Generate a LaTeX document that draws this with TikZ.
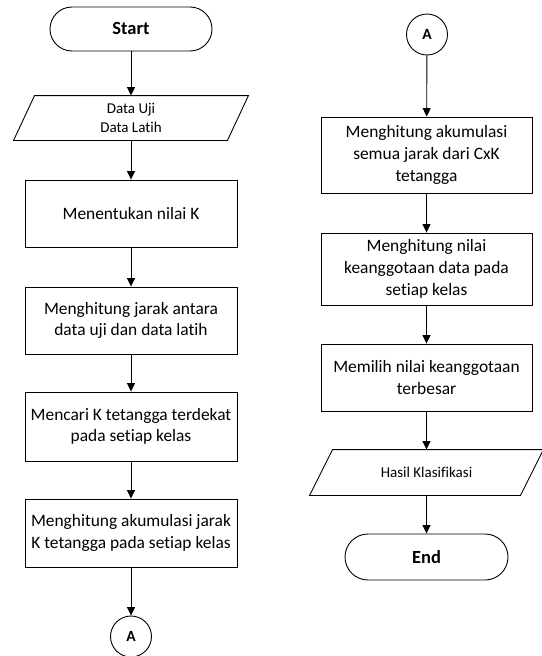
\documentclass[tikz,border=0pt]{standalone}
\usepackage{fontspec}
\setmainfont{Carlito}[Ligatures={NoCommon,NoContextual}]
\usetikzlibrary{arrows.meta,calc}
\newcommand\sep{\kern0pt }
\begin{document}
\begin{tikzpicture}[x=1pt,y=-1pt,
  line width=0.9pt,
  every node/.style={font=\fontsize{17.4}{21.7}\selectfont, align=center, inner sep=0pt},
  proc/.style={draw, rectangle, minimum width=212pt},
  term/.style={draw, rectangle, rounded corners=22pt, minimum width=162pt, minimum height=44pt, font=\fontsize{18.5}{20}\selectfont\bfseries},
  conn/.style={draw, circle, minimum size=41pt, font=\fontsize{15.5}{17}\selectfont\bfseries},
  iobox/.style={rectangle, minimum height=44pt, font=\fontsize{15}{19}\selectfont},
  arr/.style={-{Triangle[length=8.5pt,width=8pt]}}
]
\useasboundingbox (0,0) rectangle (541,656);
% left column
\node[term] (start) at (131,29) {Start};
\node[iobox, minimum width=213pt] (data) at (131,118) {Data Uji\\Data Lat\sep ih};
\draw ($(data.north west)+(10.5,0)$) -- ($(data.north east)+(10.5,0)$) -- ($(data.south east)+(-10.5,0)$) -- ($(data.south west)+(-10.5,0)$) -- cycle;
\node[proc, minimum height=67pt] (b1) at (131,213.5) {Menentukan nilai K};
\node[proc, minimum height=67pt] (b2) at (131,320.5) {Menghitung jarak antara\\data uji dan data lat\sep ih};
\node[proc, minimum height=69pt] (b3) at (131,426.5) {Mencari K tetangga terdekat\\pada set\sep iap kelas};
\node[proc, minimum height=68pt] (b4) at (131,533) {Menghitung akumulasi jarak\\K tetangga pada set\sep iap kelas};
\node[conn] (a1) at (131,636.5) {A};
\draw[arr] (start) -- (data);
\draw[arr] (data) -- (b1);
\draw[arr] (b1) -- (b2);
\draw[arr] (b2) -- (b3);
\draw[arr] (b3) -- (b4);
\draw[arr] (b4) -- (a1);
% right column
\node[conn] (a2) at (427,34.5) {A};
\node[proc, minimum width=211pt, minimum height=76pt] (b5) at (426.5,155) {Menghitung akumulasi\\semua jarak dari CxK\\tetangga};
\node[proc, minimum width=211pt, minimum height=72pt] (b6) at (426.5,269) {Menghitung nilai\\keanggotaan data pada\\set\sep iap kelas};
\node[proc, minimum width=211pt, minimum height=67pt] (b7) at (426.5,377.5) {Memilih nilai keanggotaan\\terbesar};
\node[iobox, minimum width=210pt, minimum height=45pt] (hasil) at (426.5,472.5) {Hasil Klasif\sep ikasi};
\draw ($(hasil.north west)+(11.5,0)$) -- ($(hasil.north east)+(11.5,0)$) -- ($(hasil.south east)+(-11.5,0)$) -- ($(hasil.south west)+(-11.5,0)$) -- cycle;
\node[term, minimum width=163pt, minimum height=46pt, rounded corners=23pt] (end) at (426.5,557) {End};
\draw[arr] (a2) -- (b5);
\draw[arr] (b5) -- (b6);
\draw[arr] (b6) -- (b7);
\draw[arr] (b7) -- (hasil);
\draw[arr] (hasil) -- (end);
\end{tikzpicture}
\end{document}
